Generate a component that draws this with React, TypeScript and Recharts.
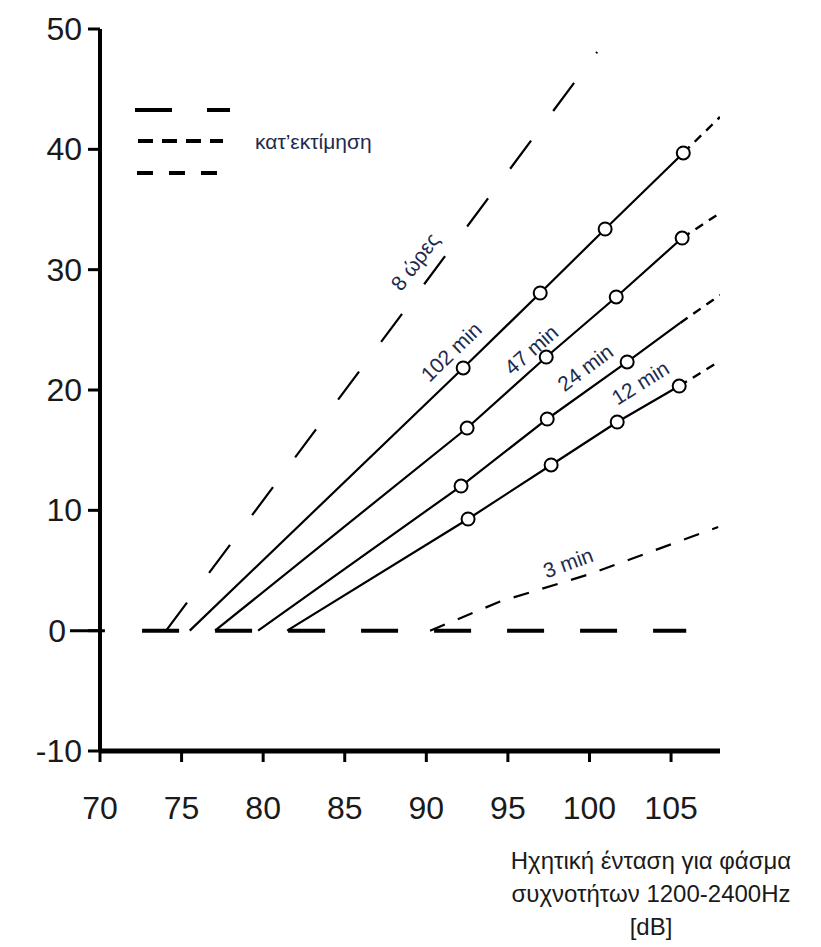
import React from 'react';
import { LineChart, Line, XAxis, YAxis, ReferenceDot, ReferenceLine, Legend } from 'recharts';

const FONT = "'Liberation Sans', Arial, Helvetica, sans-serif";
const LABEL_COLOR = '#1d2a4d';
const TICK_COLOR = '#1a1a1a';

const xTicks = [70, 75, 80, 85, 90, 95, 100, 105];
const yTicks = [-10, 0, 10, 20, 30, 40, 50];

// 102 min
const min102X = [75.5, 92.26, 96.98, 100.96, 105.75];
const min102Y = [0, 21.83, 28.06, 33.38, 39.7];
const min102Measured = [false, true, true, true, true];
const min102ExtX = [105.75, 108];
const min102ExtY = [39.7, 42.69];

// 47 min
const min47X = [77.05, 92.5, 97.35, 101.64, 105.68];
const min47Y = [0, 16.84, 22.74, 27.73, 32.63];
const min47Measured = [false, true, true, true, true];
const min47ExtX = [105.68, 108];
const min47ExtY = [32.63, 34.71];

// 24 min
const min24X = [79.69, 92.13, 97.41, 102.31, 105.56];
const min24Y = [0, 12.02, 17.59, 22.33, 25.57];
const min24Measured = [false, true, true, true, false];
const min24ExtX = [105.56, 108];
const min24ExtY = [25.57, 27.89];

// 12 min
const min12X = [81.47, 92.56, 97.65, 101.7, 105.5];
const min12Y = [0, 9.28, 13.77, 17.34, 20.33];
const min12Measured = [false, true, true, true, true];
const min12ExtX = [105.5, 108];
const min12ExtY = [20.33, 22.41];

// 8 hours
const hours8X = [74.05, 100.47];
const hours8Y = [0, 48.09];

// 3 min (estimated)
const min3X = [90.23, 94.52, 100.04, 107.89];
const min3Y = [0, 2.42, 4.71, 8.61];

// zero baseline
const baselineX = [72.58, 105.93];
const baselineY = [0, 0];

const curveLabels = [
  { text: '8 ώρες', x: 89.31, y: 30.67, angle: -53 },
  { text: '102 min', x: 91.52, y: 23.19, angle: -44 },
  { text: '47 min', x: 96.43, y: 23.36, angle: -41 },
  { text: '24 min', x: 99.74, y: 21.86, angle: -37 },
  { text: '12 min', x: 103.11, y: 20.6, angle: -32 },
  { text: '3 min', x: 98.69, y: 5.65, angle: -20 },
];

const toPoints = (xs: number[], ys: number[], flags?: boolean[]) =>
  xs.map((x, i) => ({ x, y: ys[i], m: flags ? flags[i] : false }));

const renderDot = (props: any) => {
  const { cx, cy, payload, index } = props;
  if (!payload || !payload.m) return <g key={`n-${index}`} />;
  return (
    <circle key={`c-${index}`} cx={cx} cy={cy} r={6.5} fill="#fff" stroke="#000" strokeWidth={2} />
  );
};

const makeRotLabel = (text: string, angle: number) => (props: any) => {
  const vb = props.viewBox || {};
  const cx = (vb.x ?? 0) + (vb.width ?? 0) / 2;
  const cy = (vb.y ?? 0) + (vb.height ?? 0) / 2;
  return (
    <text
      x={cx}
      y={cy}
      transform={`rotate(${angle}, ${cx}, ${cy})`}
      textAnchor="middle"
      dominantBaseline="central"
      fontFamily={FONT}
      fontSize={21}
      fill={LABEL_COLOR}
    >
      {text}
    </text>
  );
};

const YTick = (props: any) => {
  const { x, y, payload } = props;
  const shift = payload.value === 0 ? 16 : 0;
  return (
    <text
      x={x - shift}
      y={y}
      textAnchor="end"
      dominantBaseline="central"
      fontFamily={FONT}
      fontSize={32}
      fill={TICK_COLOR}
    >
      {payload.value}
    </text>
  );
};

const LegendBox = () => (
  <svg width={300} height={90} style={{ display: 'block', overflow: 'visible' }}>
    <line x1={0} x2={95} y1={10} y2={10} stroke="#000" strokeWidth={4} strokeDasharray="37 35" />
    <line x1={3} x2={88} y1={41} y2={41} stroke="#000" strokeWidth={4} strokeDasharray="15 9" />
    <line x1={2} x2={82} y1={73} y2={73} stroke="#000" strokeWidth={4} strokeDasharray="16 16" />
    <text x={120} y={41} dominantBaseline="central" fontFamily={FONT} fontSize={21} fill={LABEL_COLOR}>
      κατ’εκτίμηση
    </text>
  </svg>
);

const AxisTitle = () => (
  <text textAnchor="middle" fontFamily={FONT} fontSize={24} fill={TICK_COLOR}>
    <tspan x={651} y={869}>Ηχητική ένταση για φάσμα</tspan>
    <tspan x={651} y={902}>συχνοτήτων 1200-2400Hz</tspan>
    <tspan x={651} y={935}>[dB]</tspan>
  </text>
);

export default function App() {
  return (
    <div style={{ position: 'absolute', left: 0, top: 0, width: 821, height: 947, background: '#fff' }}>
      <LineChart width={821} height={947} margin={{ top: 29, right: 101, left: 40, bottom: 136 }}>
        <XAxis
          type="number"
          dataKey="x"
          domain={[70, 108]}
          ticks={xTicks}
          interval={0}
          allowDataOverflow
          height={60}
          tickSize={11}
          tickMargin={34}
          axisLine={{ stroke: '#000', strokeWidth: 5 }}
          tickLine={{ stroke: '#000', strokeWidth: 3 }}
          tick={{ fontSize: 32, fill: TICK_COLOR, fontFamily: FONT }}
          label={<AxisTitle />}
        />
        <YAxis
          type="number"
          dataKey="y"
          domain={[-10, 50]}
          ticks={yTicks}
          interval={0}
          allowDataOverflow
          width={60}
          tickSize={12}
          tickMargin={6}
          axisLine={{ stroke: '#000', strokeWidth: 4 }}
          tickLine={{ stroke: '#000', strokeWidth: 3 }}
          tick={<YTick />}
        />
        <ReferenceLine
          segment={[{ x: 68.16, y: 0 }, { x: 70.3, y: 0 }]}
          ifOverflow="visible"
          stroke="#000"
          strokeWidth={3}
        />
        <Legend
          layout="horizontal"
          verticalAlign="middle"
          align="center"
          wrapperStyle={{ left: 135, top: 100, width: 300, height: 90 }}
          content={() => <LegendBox />}
        />

        <Line data={toPoints(baselineX, baselineY)} dataKey="y" stroke="#000" strokeWidth={4} strokeDasharray="37 36" dot={false} isAnimationActive={false} />
        <Line data={toPoints(hours8X, hours8Y)} dataKey="y" stroke="#000" strokeWidth={2.2} strokeDasharray="35 37" dot={false} isAnimationActive={false} />
        <Line data={toPoints(min3X, min3Y)} dataKey="y" stroke="#000" strokeWidth={2.2} strokeDasharray="16 14" dot={false} isAnimationActive={false} />

        <Line data={toPoints(min102ExtX, min102ExtY)} dataKey="y" stroke="#000" strokeWidth={2.4} strokeDasharray="9 7" dot={false} isAnimationActive={false} />
        <Line data={toPoints(min47ExtX, min47ExtY)} dataKey="y" stroke="#000" strokeWidth={2.4} strokeDasharray="9 7" dot={false} isAnimationActive={false} />
        <Line data={toPoints(min24ExtX, min24ExtY)} dataKey="y" stroke="#000" strokeWidth={2.4} strokeDasharray="9 7" dot={false} isAnimationActive={false} />
        <Line data={toPoints(min12ExtX, min12ExtY)} dataKey="y" stroke="#000" strokeWidth={2.4} strokeDasharray="9 7" dot={false} isAnimationActive={false} />

        <Line data={toPoints(min102X, min102Y, min102Measured)} dataKey="y" stroke="#000" strokeWidth={2.2} dot={renderDot} activeDot={false} isAnimationActive={false} />
        <Line data={toPoints(min47X, min47Y, min47Measured)} dataKey="y" stroke="#000" strokeWidth={2.2} dot={renderDot} activeDot={false} isAnimationActive={false} />
        <Line data={toPoints(min24X, min24Y, min24Measured)} dataKey="y" stroke="#000" strokeWidth={2.2} dot={renderDot} activeDot={false} isAnimationActive={false} />
        <Line data={toPoints(min12X, min12Y, min12Measured)} dataKey="y" stroke="#000" strokeWidth={2.2} dot={renderDot} activeDot={false} isAnimationActive={false} />

        {curveLabels.map((l) => (
          <ReferenceDot
            key={l.text}
            x={l.x}
            y={l.y}
            r={0}
            fill="none"
            stroke="none"
            ifOverflow="visible"
            label={makeRotLabel(l.text, l.angle)}
          />
        ))}
      </LineChart>
    </div>
  );
}
